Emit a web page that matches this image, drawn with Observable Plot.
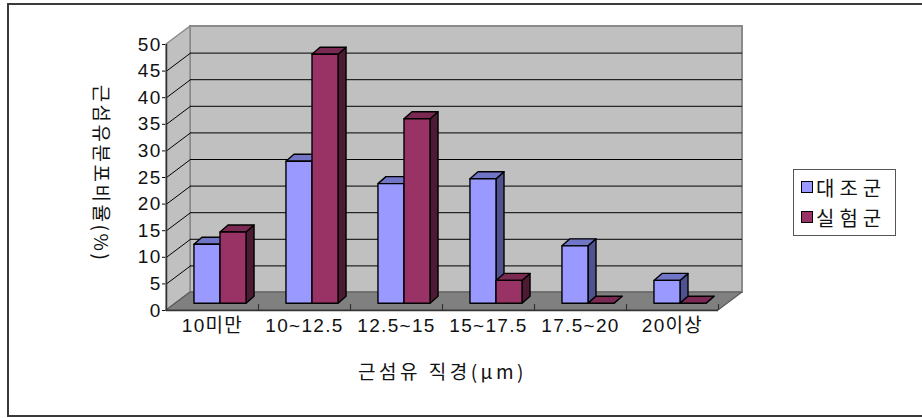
<!DOCTYPE html>
<html><head><meta charset="utf-8">
<script src="https://cdn.jsdelivr.net/npm/d3@7"></script>
<script src="https://cdn.jsdelivr.net/npm/@observablehq/plot@0.6"></script>
<style>
body{margin:0;background:#fff;}
#wrap{position:relative;width:922px;height:418px;overflow:hidden;font-family:"Liberation Sans","Noto Sans CJK KR",sans-serif;}
#border{position:absolute;left:7px;top:3px;width:950px;height:414px;border:2px solid #3a3a3a;box-sizing:border-box;}
#chart{position:absolute;left:0;top:0;}
#legend{position:absolute;left:793px;top:169px;width:103px;height:67px;border:1.5px solid #555;box-sizing:border-box;background:#fff;font-size:20px;color:#111;}
.row{position:absolute;left:7px;height:24px;display:flex;align-items:center;}
.sw{width:10px;height:10px;border:1.5px solid #000;margin-right:3px;}
.lt{letter-spacing:5px;font-family:"Noto Sans CJK KR",sans-serif;}
</style></head>
<body><div id="wrap"><div id="border"></div><div id="chart"></div><div id="legend"></div></div>
<script>
// ---- data ----
const categories = ["10미만", "10~12.5", "12.5~15", "15~17.5", "17.5~20", "20이상"];
const seriesNames = ["대조군", "실험군"];
const control = [11.1, 26.7, 22.5, 23.4, 10.8, 4.3];
const experimental = [13.4, 46.8, 34.7, 4.3, 0, 0];
const yTicks = [0, 5, 10, 15, 20, 25, 30, 35, 40, 45, 50];
const yTitle = "근섬유분포비율(%)";
const xTitle = "근섬유 직경(μm)";

// ---- style / geometry ----
const colors = [
  {front: "#9999ff", top: "#7175c6", side: "#50528f"},
  {front: "#993366", top: "#7a2952", side: "#4d1a34"}
];
const W = 922, H = 418, ML = 166, MR = 204, MT = 44, MB = 108;
const N = categories.length, YMAX = d3.max(yTicks);
const pxX = (W - ML - MR) / N, pxY = (H - MT - MB) / YMAX;
const WDX = 24, WDY = 18;           // wall depth in px
const wdx = WDX / pxX, wdy = WDY / pxY;
const BOX = 8, BOY = 6.7;           // bar front-face offset px
const bdx = 8 / pxX, bdy = 7 / pxY; // bar depth in units
const g0 = 0.217, bw = 0.283;

const series = [control, experimental];
const bars = [];
series.forEach((vals, s) => vals.forEach((v, i) => {
  const x1 = i + g0 + s * bw;
  bars.push({s, i, x1, x2: x1 + bw, v, id: s + "-" + i});
}));
const sides = bars.flatMap(b => [
  {id: b.id, s: b.s, x: b.x2, y1: 0, y2: b.v},
  {id: b.id, s: b.s, x: b.x2 + bdx, y1: bdy, y2: b.v + bdy}
]);
const tops = bars.flatMap(b => [
  {id: b.id, s: b.s, y: b.v, x1: b.x1, x2: b.x2},
  {id: b.id, s: b.s, y: b.v + bdy, x1: b.x1 + bdx, x2: b.x2 + bdx}
]);
const inner = yTicks.filter(v => v > 0 && v < YMAX);

const barMarks = [];
[0, 1].forEach(s => {
  const c = colors[s];
  const common = {dx: BOX, dy: -BOY, stroke: "#000", strokeWidth: 1.4, strokeLinejoin: "round"};
  barMarks.push(Plot.areaY(sides.filter(d => d.s === s), {x: "x", y1: "y1", y2: "y2", z: "id", fill: c.side, ...common}));
  barMarks.push(Plot.areaX(tops.filter(d => d.s === s), {y: "y", x1: "x1", x2: "x2", z: "id", fill: c.top, ...common}));
  barMarks.push(Plot.rect(bars.filter(d => d.s === s), {x1: "x1", x2: "x2", y1: 0, y2: "v", fill: c.front, ...common}));
});

const chart = Plot.plot({
  width: W, height: H,
  marginLeft: ML, marginRight: MR, marginTop: MT, marginBottom: MB,
  style: {fontSize: "19px", fontFamily: "'Liberation Sans','Noto Sans CJK KR',sans-serif", color: "#111", background: "transparent", overflow: "visible", letterSpacing: "1.3px"},
  x: {domain: [0, N], ticks: categories.map((_, i) => i + 0.5), tickFormat: d => categories[Math.floor(d)], tickSize: 0, tickPadding: 8, label: null},
  y: {domain: [0, YMAX], ticks: yTicks, tickSize: 4, tickPadding: 1, label: null},
  marks: [
    // back wall
    Plot.rect([{}], {x1: 0, x2: N, y1: 0, y2: YMAX, dx: WDX, dy: -WDY, fill: "#c0c0c0", stroke: "#8a8a8a", strokeWidth: 2}),
    // side wall
    Plot.areaY([{x: 0, y1: 0, y2: YMAX}, {x: wdx, y1: wdy, y2: YMAX + wdy}], {x: "x", y1: "y1", y2: "y2", fill: "#c0c0c0", stroke: "#8a8a8a", strokeWidth: 1.5}),
    // gridlines
    Plot.ruleY(inner, {x1: 0, x2: N, dx: WDX, dy: -WDY, stroke: "#000", strokeWidth: 1}),
    Plot.link(inner, {x1: 0, y1: d => d, x2: wdx, y2: d => d + wdy, stroke: "#000", strokeWidth: 1}),
    // floor
    Plot.areaX([{y: 0, x1: 0, x2: N}, {y: wdy, x1: wdx, x2: N + wdx}], {y: "y", x1: "x1", x2: "x2", fill: "#808080", stroke: "#5a5a5a", strokeWidth: 1.2}),
    Plot.ruleY([0], {x1: 0, x2: N, stroke: "#333", strokeWidth: 1.5}),
    Plot.ruleX([0], {y1: 0, y2: YMAX, stroke: "#333", strokeWidth: 1.5}),
    Plot.ruleX(d3.range(1, N + 1), {y1: 0, y2: 6 / pxY, stroke: "#333", strokeWidth: 1.2}),
    ...barMarks,
    // titles
    Plot.text([xTitle], {frameAnchor: "bottom", dy: 62, fontSize: 19, fill: "#111", fontFamily: "'Noto Sans CJK KR',sans-serif", lineAnchor: "middle"}),
    Plot.text([yTitle], {frameAnchor: "left", dx: -66, dy: -4, rotate: 90, fontSize: 19, fill: "#111", fontFamily: "'Noto Sans CJK KR',sans-serif", lineAnchor: "middle", textAnchor: "middle"})
  ]
});
d3.select(chart).selectAll("text").each(function() {
  const t = this.textContent;
  if (t === xTitle) this.style.letterSpacing = "3.5px";
  if (t === yTitle) this.style.letterSpacing = "2.5px";
});
document.getElementById("chart").appendChild(chart);

const legend = document.getElementById("legend");
seriesNames.forEach((name, s) => {
  const row = document.createElement("div");
  row.className = "row";
  row.style.top = (5 + s * 30) + "px";
  row.innerHTML = `<span class="sw" style="background:${colors[s].front}"></span><span class="lt">${name}</span>`;
  legend.appendChild(row);
});
</script>
</body></html>
